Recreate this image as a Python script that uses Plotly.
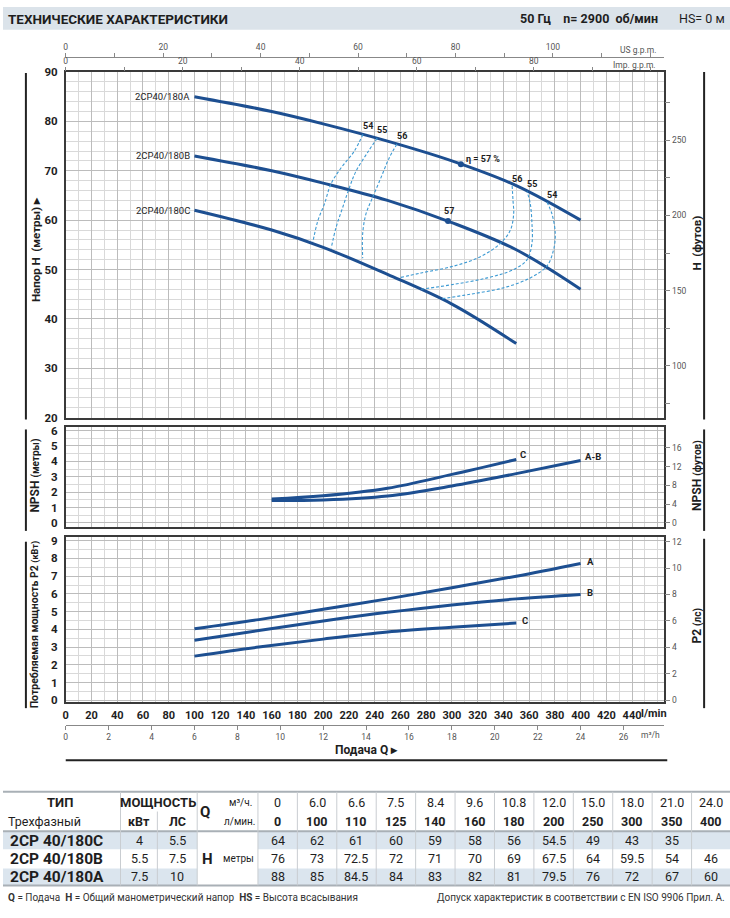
import plotly.graph_objects as go

W, H = 730, 918


def px(x):
    return x / W


def py(y):
    return 1 - y / H


FONT = "Roboto, Liberation Sans, Arial, sans-serif"
DARK = "#1e1e1e"
BLUE = "#1d4f91"
DASH = "#3d9ad3"

# ---------------- data ----------------
q_lmin = [0, 100, 110, 125, 140, 160, 180, 200, 250, 300, 350, 400]
q_m3h = ["0", "6.0", "6.6", "7.5", "8.4", "9.6", "10.8", "12.0", "15.0", "18.0", "21.0", "24.0"]
models = ["2CP 40/180C", "2CP 40/180B", "2CP 40/180A"]
curve_names = ["2CP40/180C", "2CP40/180B", "2CP40/180A"]
power_kw = ["4", "5.5", "7.5"]
power_hp = ["5.5", "7.5", "10"]
head_c = [64, 62, 61, 60, 59, 58, 56, 54.5, 49, 43, 35, None]
head_b = [76, 73, 72.5, 72, 71, 70, 69, 67.5, 64, 59.5, 54, 46]
head_a = [88, 85, 84.5, 84, 83, 82, 81, 79.5, 76, 72, 67, 60]
heads = [head_c, head_b, head_a]
curve_q = [100, 160, 200, 250, 300, 350, 400]   # table points used to draw the smooth curves

# iso-efficiency contours (Q l/min, H m)
eff_labels = ["54", "55", "56"]
eff_left_q = [[231, 224, 214, 206, 201, 196, 192],
              [242, 235, 225.5, 220.4, 215.2, 210.1, 206.2],
              [257.3, 251.3, 244.9, 238.4, 233.3, 230.7, 230.7]]
eff_left_h = [[77.4, 73.9, 70.6, 67.3, 63.3, 60.0, 55.6],
              [76.6, 73.9, 69.9, 66.6, 62.6, 58.6, 54.3],
              [75.4, 72.6, 68.6, 64.6, 61.3, 57.3, 52.3]]
eff_right_q = [[292.6, 314.5, 340.3, 360.9, 373.8, 379.0, 380.3, 377.7, 373.8],
               [276.1, 301.6, 327.4, 348.0, 358.4, 362.2, 362.2, 360.9, 358.4],
               [260.3, 276.1, 301.6, 322.2, 337.7, 345.5, 348.0, 347.5, 346.8]]
eff_right_h = [[44.1, 45.0, 46.3, 48.3, 50.7, 54.0, 57.3, 61.3, 63.7],
               [46.0, 47.0, 48.3, 50.0, 52.0, 55.3, 59.3, 63.3, 65.8],
               [48.4, 49.3, 50.7, 52.6, 55.3, 58.0, 61.3, 63.9, 67.0]]
bep_q = [307, 297]
bep_h = [71.3, 59.8]
bep_text = ["η = 57 %", "57"]

# NPSH (m)
npsh_q_c = [160, 200, 250, 300, 350]
npsh_c = [1.55, 1.76, 2.25, 3.15, 4.12]
npsh_q_ab = [160, 200, 250, 300, 350, 400]
npsh_ab = [1.45, 1.49, 1.75, 2.4, 3.2, 4.05]

# Power P2 (kW)
pw_q = [100, 150, 200, 250, 300, 350, 400]
pw_a = [4.03, 4.55, 5.13, 5.72, 6.35, 7.0, 7.72]
pw_b = [3.39, 3.93, 4.47, 4.96, 5.38, 5.72, 5.97]
pw_q_c = [100, 150, 200, 250, 300, 350]
pw_c = [2.49, 3.0, 3.45, 3.85, 4.12, 4.36]

lmin_ticks = list(range(0, 441, 20))
m3h_ticks = list(range(0, 27, 2))
usgpm_ticks = list(range(0, 121, 10))
impgpm_ticks = list(range(0, 101, 10))
ft_ticks = [75, 100, 125, 150, 175, 200, 225, 250, 275]
npsh_ft_ticks = [0, 4, 8, 12, 16]
hp_ticks = [0, 2, 4, 6, 8, 10, 12]

# ---------------- geometry ----------------
X_MAX = 465
M2FT = 3.2808
KW2HP = 1 / 0.7457
LMIN2M3H = 0.06
LMIN2USG = 1 / 3.7854
LMIN2IMP = 1 / 4.5461
dom_x = [px(63), px(664)]
main_rng = [20, 90]
npsh_rng = [-0.258, 6.194]
pw_rng = [-0.111, 9.222]

fig = go.Figure()
NOHOV = dict(showlegend=False, hoverinfo="skip")

# head curves
for name, hd in zip(curve_names, heads):
    qq = [q for q, h in zip(q_lmin, hd) if q in curve_q and h is not None]
    hh = [h for q, h in zip(q_lmin, hd) if q in curve_q and h is not None]
    fig.add_trace(go.Scatter(x=qq, y=hh, mode="lines", line=dict(color=BLUE, width=3, shape="spline"),
                             xaxis="x", yaxis="y", **NOHOV))
    fig.add_annotation(x=qq[0], y=hh[0], xref="x", yref="y", text=name, showarrow=False,
                       xanchor="right", yanchor="middle", xshift=-2,
                       font=dict(family=FONT, size=9.5, color=DARK))
    # same curve expressed in the secondary units (transparent) so that those axes are drawn
    fig.add_trace(go.Scatter(x=qq, y=[h * M2FT for h in hh], mode="lines", line=dict(width=0),
                             opacity=0, xaxis="x", yaxis="y2", **NOHOV))
    fig.add_trace(go.Scatter(x=[q * LMIN2USG for q in qq], y=hh, mode="lines", line=dict(width=0),
                             opacity=0, xaxis="x4", yaxis="y", **NOHOV))
    fig.add_trace(go.Scatter(x=[q * LMIN2IMP for q in qq], y=hh, mode="lines", line=dict(width=0),
                             opacity=0, xaxis="x5", yaxis="y", **NOHOV))

# efficiency contours
for lab, lq, lh, rq, rh in zip(eff_labels, eff_left_q, eff_left_h, eff_right_q, eff_right_h):
    for qq, hh in ((lq, lh), (rq, rh)):
        fig.add_trace(go.Scatter(x=qq, y=hh, mode="lines",
                                 line=dict(color=DASH, width=1.1, dash="3px,2px", shape="spline"),
                                 xaxis="x", yaxis="y", **NOHOV))
    fig.add_annotation(x=lq[0], y=lh[0], xref="x", yref="y", text=f"<b>{lab}</b>", showarrow=False,
                       xanchor="center", yanchor="bottom", xshift=5, yshift=1,
                       font=dict(family=FONT, size=9, color=DARK))
    fig.add_annotation(x=rq[-1], y=rh[-1], xref="x", yref="y", text=f"<b>{lab}</b>", showarrow=False,
                       xanchor="center", yanchor="bottom", xshift=5, yshift=0,
                       font=dict(family=FONT, size=9, color=DARK))

fig.add_trace(go.Scatter(x=bep_q, y=bep_h, mode="markers", marker=dict(color=BLUE, size=6),
                         xaxis="x", yaxis="y", **NOHOV))
fig.add_annotation(x=bep_q[0], y=bep_h[0], xref="x", yref="y", text=f"<b>{bep_text[0]}</b>",
                   showarrow=False, xanchor="left", yanchor="bottom", xshift=3, yshift=-2,
                   font=dict(family=FONT, size=9, color=DARK))
fig.add_annotation(x=bep_q[1], y=bep_h[1], xref="x", yref="y", text=f"<b>{bep_text[1]}</b>",
                   showarrow=False, xanchor="center", yanchor="bottom", xshift=1, yshift=3,
                   font=dict(family=FONT, size=9, color=DARK))

# NPSH curves
for qq, vv, lab in ((npsh_q_c, npsh_c, "C"), (npsh_q_ab, npsh_ab, "A-B")):
    fig.add_trace(go.Scatter(x=qq, y=vv, mode="lines", line=dict(color=BLUE, width=3, shape="spline"),
                             xaxis="x2", yaxis="y3", **NOHOV))
    fig.add_trace(go.Scatter(x=qq, y=[v * M2FT for v in vv], mode="lines", line=dict(width=0),
                             opacity=0, xaxis="x2", yaxis="y4", **NOHOV))
    fig.add_annotation(x=qq[-1], y=vv[-1], xref="x2", yref="y3", text=f"<b>{lab}</b>", showarrow=False,
                       xanchor="left", yanchor="bottom", xshift=2, yshift=-3,
                       font=dict(family=FONT, size=9.5, color=DARK))

# Power curves
for qq, vv, lab in ((pw_q, pw_a, "A"), (pw_q, pw_b, "B"), (pw_q_c, pw_c, "C")):
    fig.add_trace(go.Scatter(x=qq, y=vv, mode="lines", line=dict(color=BLUE, width=3, shape="spline"),
                             xaxis="x3", yaxis="y5", **NOHOV))
    fig.add_trace(go.Scatter(x=qq, y=[v * KW2HP for v in vv], mode="lines", line=dict(width=0),
                             opacity=0, xaxis="x3", yaxis="y6", **NOHOV))
    fig.add_trace(go.Scatter(x=[q * LMIN2M3H for q in qq], y=vv, mode="lines", line=dict(width=0),
                             opacity=0, xaxis="x6", yaxis="y5", **NOHOV))
    fig.add_annotation(x=qq[-1], y=vv[-1], xref="x3", yref="y5", text=f"<b>{lab}</b>", showarrow=False,
                       xanchor="left", yanchor="middle", xshift=4, yshift=2,
                       font=dict(family=FONT, size=9.5, color=DARK))

# ---------------- axes ----------------
grid_major = "#bcbcbc"
grid_minor = "#d9d9d9"
frame = dict(showline=True, linecolor="#3a3a3a", linewidth=1.5, mirror=True)


def xgrid(anchor, labels=False):
    d = dict(domain=dom_x, range=[0, X_MAX], anchor=anchor, showgrid=True, gridcolor=grid_major,
             gridwidth=1, dtick=20, tick0=0, zeroline=False, ticks="",
             minor=dict(dtick=10, showgrid=True, gridcolor=grid_minor, gridwidth=1), **frame)
    if labels:
        d.update(showticklabels=True, tickvals=lmin_ticks, ticktext=[str(v) for v in lmin_ticks],
                 tickfont=dict(family=FONT, size=11, color=DARK, weight="bold"), ticklabelstandoff=2)
    else:
        d.update(showticklabels=False)
    return d


def ygrid(dom, rng, mdt, tickvals):
    return dict(domain=dom, range=rng, showgrid=True, gridcolor=grid_major, gridwidth=1, zeroline=False,
                tickvals=tickvals, ticks="", ticklabelstandoff=4,
                tickfont=dict(family=FONT, size=11.5, color=DARK, weight="bold"),
                minor=dict(dtick=mdt, tick0=0, showgrid=True, gridcolor=grid_minor, gridwidth=1), **frame)


sec_font = dict(family=FONT, size=8.5, color="#555")

fig.update_layout(
    width=W, height=H, margin=dict(l=0, r=0, t=0, b=0), autosize=False,
    paper_bgcolor="white", plot_bgcolor="white", showlegend=False,
    xaxis=xgrid("y"),
    xaxis2=xgrid("y3"),
    xaxis3=xgrid("y5", labels=True),
    xaxis4=dict(overlaying="x", anchor="free", position=py(51), side="top", range=[0, X_MAX * LMIN2USG],
                tickvals=usgpm_ticks, ticktext=[str(v) if v % 20 == 0 and v <= 100 else "" for v in usgpm_ticks],
                ticks="outside", ticklen=4, tickcolor="#888", showline=True, linecolor="#888",
                linewidth=1, showgrid=False, zeroline=False, tickfont=sec_font, ticklabelstandoff=0),
    xaxis5=dict(overlaying="x", anchor="y", side="top", range=[0, X_MAX * LMIN2IMP],
                tickvals=impgpm_ticks, ticktext=[str(v) if v % 20 == 0 and v <= 80 else "" for v in impgpm_ticks],
                ticks="outside", ticklen=4, tickcolor="#888", showgrid=False, zeroline=False,
                tickfont=sec_font, ticklabelstandoff=0),
    xaxis6=dict(overlaying="x3", anchor="free", position=py(729), side="bottom", range=[0, X_MAX * LMIN2M3H],
                tickvals=m3h_ticks, ticks="outside", ticklen=4, tickcolor="#888", showline=True,
                linecolor="#888", linewidth=1, showgrid=False, zeroline=False, tickfont=sec_font,
                ticklabelstandoff=0),
    yaxis=ygrid([py(417), py(66)], main_rng, 2, list(range(20, 91, 10))),
    yaxis2=dict(overlaying="y", side="right", anchor="x", range=[main_rng[0] * M2FT, main_rng[1] * M2FT],
                tickvals=ft_ticks, ticktext=[str(v) if v % 50 == 0 else "" for v in ft_ticks],
                ticks="outside", ticklen=5, tickcolor="#888", showgrid=False, zeroline=False,
                tickfont=sec_font),
    yaxis3=ygrid([py(528), py(427)], npsh_rng, 0.5, list(range(0, 7))),
    yaxis4=dict(overlaying="y3", side="right", anchor="x2", range=[npsh_rng[0] * M2FT, npsh_rng[1] * M2FT],
                tickvals=npsh_ft_ticks, ticks="outside", ticklen=5, tickcolor="#888", showgrid=False,
                zeroline=False, tickfont=sec_font),
    yaxis5=ygrid([py(706), py(538)], pw_rng, 0.5, list(range(0, 10))),
    yaxis6=dict(overlaying="y5", side="right", anchor="x3", range=[pw_rng[0] * KW2HP, pw_rng[1] * KW2HP],
                tickvals=hp_ticks, ticks="outside", ticklen=5, tickcolor="#888", showgrid=False,
                zeroline=False, tickfont=sec_font),
)

shapes = []
annos = []


def A(x, y, text, size=10, color=DARK, xanchor="center", angle=0, bold=False, **kw):
    t = f"<b>{text}</b>" if bold else text
    annos.append(dict(x=px(x), y=py(y), xref="paper", yref="paper", text=t, showarrow=False,
                      xanchor=xanchor, yanchor="middle", textangle=angle,
                      font=dict(family=FONT, size=size, color=color), **kw))


def L(x0, y0, x1, y1, color="#222", width=2):
    shapes.append(dict(type="line", xref="paper", yref="paper", x0=px(x0), y0=py(y0), x1=px(x1), y1=py(y1),
                       line=dict(color=color, width=width)))


def R(x0, y0, x1, y1, fill):
    shapes.append(dict(type="rect", xref="paper", yref="paper", x0=px(x0), y0=py(y0), x1=px(x1), y1=py(y1),
                       fillcolor=fill, line=dict(width=0), layer="below"))


# header band
R(0, 0, 730, 23, "#dbe3ea")
A(3, 12, "ТЕХНИЧЕСКИЕ ХАРАКТЕРИСТИКИ", size=13.5, xanchor="left", bold=True)
A(727, 12, "HS= 0 м", size=12.5, xanchor="right")
A(660, 12, "50 Гц\u00a0\u00a0\u00a0\u00a0n= 2900\u00a0\u00a0об/мин", size=12.5, xanchor="right", bold=True)

# unit labels on secondary x axes
A(658, 44, "US g.p.m.", size=8.5, color="#555", xanchor="right")
A(658, 59, "Imp. g.p.m.", size=8.5, color="#555", xanchor="right")
A(639, 717, "<b>l/min</b>", size=11, xanchor="left")
A(662, 739, "m³/h", size=8.5, color="#555", xanchor="right")

# side titles
A(33, 246, "Напор H  (метры) ▸", size=11.5, angle=-90, bold=True)
A(697, 240, "H  (футов)", size=11.5, angle=-90, bold=True)
A(32, 476, "NPSH <span style='font-size:10px'>(метры)</span>", size=12, angle=-90, bold=True)
A(697, 476, "NPSH <span style='font-size:10px'>(футов)</span>", size=12, angle=-90, bold=True)
A(32, 627, "Потребляемая мощность P2 <span style='font-size:9px'>(кВт)</span>", size=10.5, angle=-90, bold=True)
A(697, 628, "P2 <span style='font-size:10px'>(лс)</span>", size=12, angle=-90, bold=True)

# decorative vertical rules
L(23, 67, 23, 419)
L(704, 66, 704, 419)
L(23, 429, 23, 532)
L(704, 429, 704, 532)
L(23, 543, 23, 712)
L(704, 540, 704, 712)

# x title
A(365, 755, "Подача Q ▸", size=12, bold=True)
L(63, 765, 667, 765, width=2)

# ---------------- table ----------------
t_top, r1, r2, r3, r4, r5 = 797, 817, 837, 856, 874, 892
c_type, c_kw, c_hp, c_q, c_data = 118, 155, 195, 256, 256
dw = (731 - c_data) / 12
data_cx = [c_data + dw * (i + 0.5) for i in range(12)]
BG = "#dbe5ee"

R(0, r2, c_hp, r3, BG)
R(c_data, r2, 730, r3, BG)
R(0, r4, c_hp, r5, BG)
R(c_data, r4, 730, r5, BG)
L(0, r3, 730, r3, color="white", width=1.5)
L(0, r4, 730, r4, color="white", width=1.5)
L(0, t_top, 730, t_top, color="#a9b0b6", width=2)
L(0, r2, 730, r2, color="#a9b0b6", width=2)
L(0, r5, 730, r5, color="#a9b0b6", width=2)
vcol = "#c9cdd1"
L(c_type, t_top, c_type, r5, color=vcol, width=1)
L(c_kw, r1, c_kw, r5, color=vcol, width=1)
L(c_hp, t_top, c_hp, r5, color=vcol, width=1)
L(c_q, t_top, c_q, r5, color=vcol, width=1)
for i in range(1, 12):
    L(c_data + dw * i, t_top, c_data + dw * i, r5, color=vcol, width=1)

y1c, y2c = (t_top + r1) / 2 + 1, (r1 + r2) / 2
ry = [(r2 + r3) / 2, (r3 + r4) / 2, (r4 + r5) / 2]
TS = 12.5
A(57, y1c, "ТИП", size=13, bold=True)
A(42, y2c, "Трехфазный", size=TS)
A(156, y1c, "МОЩНОСТЬ", size=13, bold=True)
A(137, y2c, "кВт", size=TS, bold=True)
A(175, y2c, "ЛС", size=TS, bold=True)
A(203, (t_top + r2) / 2, "Q", size=15, bold=True)
A(238, y1c, "м³/ч.", size=10)
A(238, y2c, "л/мин.", size=10)
A(205, ry[1], "H", size=15, bold=True)
A(236, ry[1], "метры", size=10)
for cx, m3, lm in zip(data_cx, q_m3h, q_lmin):
    A(cx, y1c, m3, size=TS)
    A(cx, y2c, str(lm), size=TS, bold=True)
for yy, mdl, kw, hp, hd in zip(ry, models, power_kw, power_hp, heads):
    A(5, yy, mdl, size=15.5, bold=True, xanchor="left")
    A(137, yy, kw, size=TS)
    A(175, yy, hp, size=TS)
    for cx, h in zip(data_cx, hd):
        if h is not None:
            A(cx, yy, f"{h:g}", size=TS)

# footer
A(3, 904, "<b>Q</b> = Подача\u00a0\u00a0<b>H</b> = Общий манометрический напор\u00a0\u00a0<b>HS</b> = Высота всасывания",
  size=10, color="#333", xanchor="left")
A(727, 904, "Допуск характеристик в соответствии с EN ISO 9906 Прил. А.", size=10, color="#333",
  xanchor="right")

fig.update_layout(shapes=shapes, annotations=list(fig.layout.annotations) + annos)

# the page that write_html produces has the browser's default 8px body margin; remove it
fig.write_html("out.html", config={"displayModeBar": False},
               post_script="document.body.style.margin='0px';")
